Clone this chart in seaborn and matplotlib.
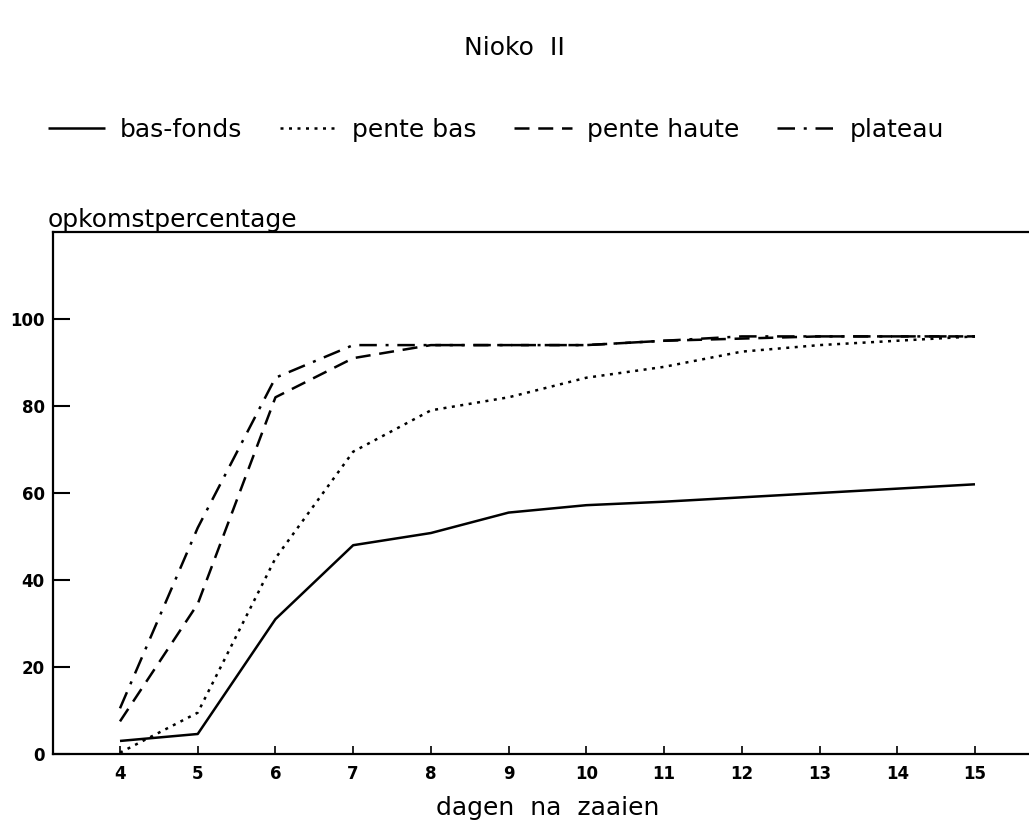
import matplotlib
matplotlib.use("Agg")
import matplotlib.pyplot as plt
import seaborn as sns
import pandas as pd
from matplotlib.lines import Line2D

days = [4, 5, 6, 7, 8, 9, 10, 11, 12, 13, 14, 15]
bas_fonds = [3, 4.6, 31, 48, 50.8, 55.5, 57.2, 58, 59, 60, 61, 62]
pente_bas = [0.3, 9.5, 45, 69.5, 79, 82, 86.5, 89, 92.5, 94, 95, 96]
pente_haute = [7.5, 34.5, 82, 91, 94, 94, 94, 95, 95.5, 96, 96, 96]
plateau = [10.5, 52, 86.5, 94, 94, 94, 94, 95, 96, 96, 96, 96]

series_names = ["bas-fonds", "pente bas", "pente haute", "plateau"]
series_values = [bas_fonds, pente_bas, pente_haute, plateau]
yticks = [0, 20, 40, 60, 80, 100]

sns.set_theme(style="white")
plt.rcParams["font.family"] = ["DejaVu Sans"]
plt.rcParams["text.color"] = "black"
plt.rcParams["xtick.color"] = "black"
plt.rcParams["ytick.color"] = "black"
plt.rcParams["xtick.labelcolor"] = "black"
plt.rcParams["ytick.labelcolor"] = "black"

fig = plt.figure(figsize=(10.29, 8.39), dpi=100)
ax = fig.add_axes([53 / 1029, 1 - 754 / 839, 1 - 53 / 1029, (754 - 232) / 839])

styles = {
    "bas-fonds": (0, ()),
    "pente bas": (0, (1.2, 2.2)),
    "pente haute": (0, (6, 3.5)),
    "plateau": (0, (7, 3.5, 1.2, 3.5)),
}

handles = []
for name, vals in zip(series_names, series_values):
    df = pd.DataFrame({"day": days, "pct": vals})
    sns.lineplot(data=df, x="day", y="pct", ax=ax, color="black",
                 linewidth=1.8, linestyle=styles[name], legend=False)
    handles.append(Line2D([0], [0], color="black", linewidth=1.8,
                          linestyle=styles[name], label=name))

ax.set_xlim(3.138, 15.695)
ax.set_ylim(0, 120)
ax.set_xticks(days)
ax.set_xticklabels([str(d) for d in days])
ax.set_yticks(yticks)
ax.set_yticklabels([str(v) for v in yticks])
ax.tick_params(axis="y", direction="in", length=12, width=1.5, labelsize=12,
               pad=6, left=True)
ax.tick_params(axis="x", direction="in", length=6, width=1.2, labelsize=12,
               pad=8, bottom=True)
for lab in ax.get_xticklabels() + ax.get_yticklabels():
    lab.set_fontweight("bold")
ax.spines["right"].set_visible(False)
for s in ["left", "bottom", "top"]:
    ax.spines[s].set_color("black")
    ax.spines[s].set_linewidth(1.6)

ax.set_xlabel("")
ax.set_ylabel("")
fig.text(48 / 1029, 1 - 227 / 839, "opkomstpercentage", fontsize=18,
         ha="left", va="baseline")
fig.text(548 / 1029, 1 - 808 / 839, "dagen  na  zaaien", fontsize=18,
         ha="center", va="center")
fig.text(0.5, 1 - 48 / 839, "Nioko  II", fontsize=18, ha="center", va="center")

fig.legend(handles=handles, loc="center left", bbox_to_anchor=(0.0243, 1 - 130 / 839),
           ncol=4, frameon=False, fontsize=18, handlelength=2.3,
           handletextpad=0.6, columnspacing=1.5)

fig.savefig("out.png", dpi=100, facecolor="white")
